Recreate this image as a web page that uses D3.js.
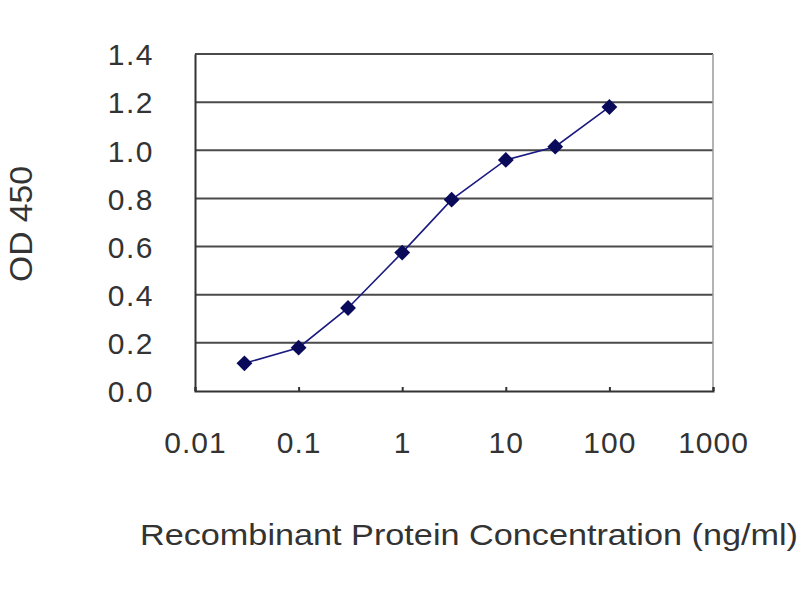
<!DOCTYPE html>
<html>
<head>
<meta charset="utf-8">
<script src="https://cdn.jsdelivr.net/npm/d3@7"></script>
<style>
  html, body { margin: 0; padding: 0; background: #fff; }
  svg { display: block; }
  text { font-family: "Liberation Sans", Arial, sans-serif; fill: #333; }
</style>
</head>
<body>
<svg id="chart" width="800" height="600"></svg>
<script>
const concentrations = [0.03, 0.1, 0.3, 1, 3, 10, 30, 100];
const odValues = [0.115, 0.18, 0.345, 0.575, 0.795, 0.96, 1.015, 1.18];
const xTicks = [0.01, 0.1, 1, 10, 100, 1000];
const xTickLabels = ["0.01", "0.1", "1", "10", "100", "1000"];
const yTicks = [0, 0.2, 0.4, 0.6, 0.8, 1.0, 1.2, 1.4];
const yTickLabels = ["0.0", "0.2", "0.4", "0.6", "0.8", "1.0", "1.2", "1.4"];
const xTitle = "Recombinant Protein Concentration (ng/ml)";
const yTitle = "OD 450";

const svg = d3.select("#chart");
const plotLeft = 195, plotRight = 713, plotTop = 54, plotBottom = 391;

const x = d3.scaleLog().domain([0.01, 1000]).range([plotLeft, plotRight]);
const y = d3.scaleLinear().domain([0, 1.4]).range([plotBottom, plotTop]);

// gridlines
svg.append("g").selectAll("line").data(yTicks.filter(d => d > 0)).join("line")
  .attr("x1", plotLeft).attr("x2", plotRight)
  .attr("y1", d => y(d)).attr("y2", d => y(d))
  .attr("stroke", "#4a4a4a").attr("stroke-width", 2);

// right border
svg.append("line").attr("x1", plotRight).attr("x2", plotRight).attr("y1", plotTop).attr("y2", plotBottom)
  .attr("stroke", "#9a9a9a").attr("stroke-width", 1.5);

// Y axis
const yAxis = d3.axisLeft(y).tickValues(yTicks).tickSize(0).tickPadding(0)
  .tickFormat((d, i) => yTickLabels[i]);
const yg = svg.append("g").attr("transform", `translate(${plotLeft},0)`).call(yAxis);
yg.select(".domain").attr("stroke", "#333").attr("stroke-width", 2);
yg.selectAll("text").attr("x", -41).attr("font-size", 30)
  .attr("font-family", "Liberation Sans, Arial, sans-serif").attr("fill", "#333")
  .attr("letter-spacing", 1.5)
  .attr("text-anchor", "end").attr("dy", "0.36em");

// X axis
const xAxis = d3.axisBottom(x).tickValues(xTicks).tickSize(-4).tickPadding(0)
  .tickFormat((d, i) => xTickLabels[i]);
const xg = svg.append("g").attr("transform", `translate(0,${plotBottom})`).call(xAxis);
xg.select(".domain").attr("stroke", "#333").attr("stroke-width", 2);
xg.selectAll(".tick line").attr("stroke", "#333").attr("stroke-width", 2);
xg.selectAll("text").attr("y", 62).attr("dy", 0).attr("font-size", 30)
  .attr("letter-spacing", 1)
  .attr("font-family", "Liberation Sans, Arial, sans-serif").attr("fill", "#333");

// line
const pts = concentrations.map((c, i) => [c, odValues[i]]);
svg.append("path").datum(pts)
  .attr("fill", "none").attr("stroke", "#1a1a80").attr("stroke-width", 1.6)
  .attr("d", d3.line().x(d => x(d[0])).y(d => y(d[1])));

// diamond markers
svg.append("g").selectAll("path").data(pts).join("path")
  .attr("transform", d => `translate(${x(d[0])},${y(d[1])})`)
  .attr("d", d3.symbol().type(d3.symbolDiamond2).size(160))
  .attr("fill", "#0a0a5a");

// titles
svg.append("text").attr("x", 140).attr("y", 545)
  .attr("font-size", 30).attr("textLength", 658).attr("lengthAdjust", "spacingAndGlyphs")
  .attr("fill", "#333").text(xTitle);

svg.append("text").attr("transform", "translate(32,224) rotate(-90)")
  .attr("text-anchor", "middle").attr("font-size", 31).attr("fill", "#333")
  .attr("textLength", 116).attr("lengthAdjust", "spacingAndGlyphs")
  .text(yTitle);
</script>
</body>
</html>
